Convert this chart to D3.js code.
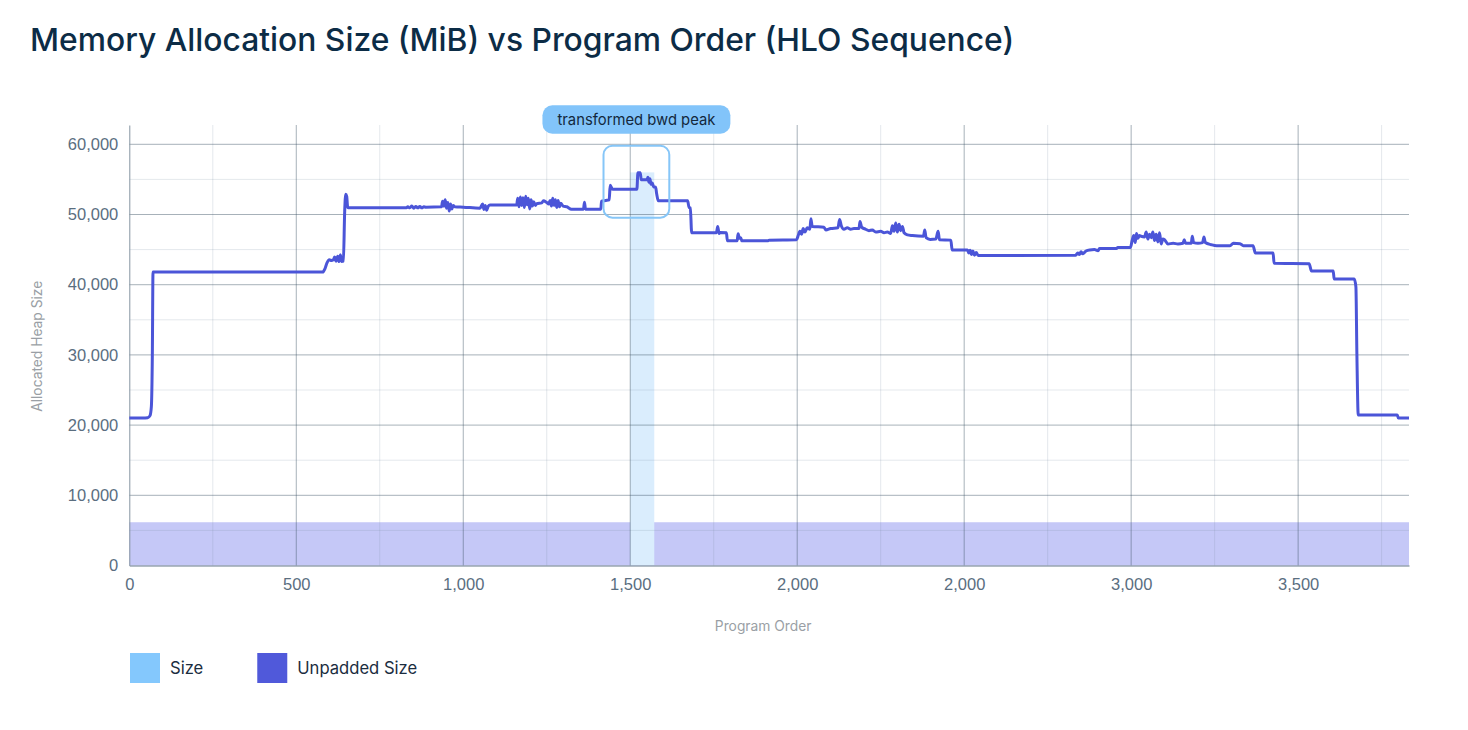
<!DOCTYPE html>
<html lang="en">
<head>
  <meta charset="UTF-8">
  <title>Memory Allocation Size (MiB) vs Program Order (HLO Sequence)</title>
  <script src="https://d3js.org/d3.v7.min.js"></script>
  <style>
    body {
      margin: 0;
      background: #fff;
      font-family: Inter, 'Noto Sans', sans-serif;
    }
    #chart { display: block; }
    .tick-label { fill: #5a6e7f; font-size: 16.5px; }
    .axis-title { fill: #9a9fa5; font-size: 13.8px; }
    .legend-text { fill: #1b2d40; font-size: 16.6px; }
  </style>
</head>
<body>
  <svg id="chart"></svg>

  <script>
    // heap trace: [program order, allocated heap size MiB]
    const heapTrace = [
      [0, 21000], [40, 21000], [55, 21050], [62, 21350], [66, 22600], [69, 30000], [71, 41800],
      [579, 41800], [586, 42300], [592, 43100], [599, 43550], [605, 43450], [611, 43550],
      [615, 43950], [619, 43350], [624, 44050], [628, 43300], [632, 44250], [636, 43300],
      [641, 43350], [645, 50500], [648, 52900], [651, 52600], [654, 51000], [658, 50950],
      [830, 50950], [834, 51100], [840, 50950], [846, 51200], [852, 50900], [858, 51150],
      [864, 50950], [870, 51150], [876, 50950], [882, 51100], [888, 51050], [935, 51100],
      [938, 51900], [942, 51200], [946, 52100], [950, 50900], [954, 51700], [958, 50500],
      [962, 51500], [966, 50800], [970, 51300], [975, 51100], [1000, 51050], [1050, 50900],
      [1058, 51500], [1062, 50700], [1066, 51300], [1070, 50600], [1075, 51200], [1080, 51350],
      [1160, 51350], [1163, 52300], [1167, 51100], [1171, 52500], [1175, 51300], [1179, 52400],
      [1183, 51000], [1187, 52600], [1191, 51400], [1195, 52300], [1199, 50800], [1203, 52100],
      [1207, 51200], [1211, 51800], [1216, 51300], [1220, 51550], [1235, 51650], [1240, 51950],
      [1250, 51700], [1256, 51500], [1260, 52000], [1264, 51200], [1268, 52300], [1272, 51300],
      [1276, 52100], [1280, 51000], [1284, 52000], [1288, 51100], [1292, 51600], [1299, 51200],
      [1310, 51100], [1324, 50750], [1360, 50750], [1363, 51750], [1366, 50750], [1412, 50750],
      [1414, 51900], [1427, 52000], [1437, 52100], [1440, 54150], [1447, 53600], [1520, 53600],
      [1523, 55950], [1530, 55950], [1533, 54950], [1550, 54950], [1553, 55300], [1556, 54600],
      [1559, 55100], [1562, 54300], [1566, 54500], [1570, 53950], [1576, 53900], [1579, 53000],
      [1584, 51950], [1672, 51950], [1676, 51000], [1680, 50950], [1684, 47400], [1758, 47400],
      [1762, 48300], [1766, 47300], [1769, 47450], [1788, 47400], [1791, 46250], [1820, 46250],
      [1823, 47250], [1827, 46600], [1831, 46700], [1834, 46250], [1913, 46250], [1916, 46350],
      [1998, 46400], [2003, 47000], [2008, 47600], [2013, 47200], [2018, 48000], [2023, 47500],
      [2030, 48100], [2038, 47900], [2041, 49400], [2045, 48300], [2080, 48200], [2086, 47800],
      [2100, 48000], [2122, 48100], [2127, 49300], [2132, 48400], [2140, 47900], [2150, 48100],
      [2160, 47900], [2170, 48000], [2185, 48000], [2188, 49000], [2193, 48200], [2205, 47900],
      [2215, 47700], [2225, 47800], [2235, 47500], [2250, 47600], [2260, 47400], [2270, 47500],
      [2280, 47300], [2285, 48400], [2290, 47600], [2295, 48800], [2300, 47500], [2305, 48600],
      [2310, 47700], [2315, 48300], [2320, 47400], [2330, 47100], [2345, 47000], [2378, 46900],
      [2382, 47800], [2386, 46700], [2398, 46450], [2415, 46500], [2422, 47600], [2426, 46400],
      [2460, 46350], [2464, 44950], [2510, 44950], [2514, 44500], [2518, 44900], [2522, 44300],
      [2526, 44800], [2531, 44200], [2536, 44600], [2542, 44150], [2834, 44200], [2840, 44500],
      [2845, 44300], [2850, 44700], [2855, 44400], [2865, 44800], [2876, 44950], [2890, 45000],
      [2901, 44850], [2905, 45150], [2956, 45150], [2960, 45300], [2998, 45300], [3003, 46300],
      [3008, 47000], [3012, 46000], [3016, 47300], [3020, 46600], [3025, 47000], [3030, 46900],
      [3040, 46800], [3045, 47500], [3050, 46500], [3055, 47200], [3060, 46700], [3065, 47500],
      [3070, 46300], [3075, 47200], [3080, 46100], [3085, 47400], [3090, 45800], [3095, 46500],
      [3100, 46400], [3110, 45800], [3126, 45900], [3140, 45800], [3155, 45900], [3159, 46400],
      [3163, 45900], [3180, 45900], [3183, 46900], [3187, 46000], [3200, 45900], [3214, 46000],
      [3218, 46800], [3222, 46000], [3240, 45700], [3256, 45550], [3296, 45550], [3306, 45900],
      [3326, 45850], [3336, 45550], [3365, 45550], [3372, 44500], [3425, 44500], [3428, 43050],
      [3533, 43000], [3540, 41950], [3605, 41950], [3608, 40800], [3668, 40800], [3673, 39700],
      [3676, 30000], [3680, 21450], [3797, 21450], [3800, 21000], [3832, 21000]
    ];

    // "Unpadded Size" band and "Size" bar
    const unpaddedSize = [[0, 6160], [3832, 6160]];
    const sizeBars = [{ start: 1500, end: 1572, value: 56000 }];

    const xDomain = [0, 3832];
    const yDomain = [0, 62750];
    const xTickValues = [0, 500, 1000, 1500, 2000, 2500, 3000, 3500];
    const xTickLabels = ["0", "500", "1,000", "1,500", "2,000", "2,000", "3,000", "3,500"];
    const xMinorTicks = [250, 750, 1250, 1750, 2250, 2750, 3250, 3750];
    const yTickValues = [0, 10000, 20000, 30000, 40000, 50000, 60000];
    const yMinorTicks = [5000, 15000, 25000, 35000, 45000, 55000];

    const peakNote = { label: "transformed bwd peak", x0: 1420, x1: 1617, y0: 49550, y1: 59800 };

    const legendItems = [
      { name: "Size", color: "#84c8fd" },
      { name: "Unpadded Size", color: "#5059da" }
    ];

    const width = 1468, height = 730;
    const margin = { top: 125, right: 59, bottom: 164.5, left: 129.3 };
    const innerW = width - margin.left - margin.right;
    const innerH = height - margin.top - margin.bottom;

    const svg = d3.select("#chart").attr("width", width).attr("height", height);

    svg.append("text")
      .attr("x", 30).attr("y", 51)
      .attr("fill", "#0c2c46")
      .style("font-size", "31.8px")
      .style("font-weight", 500)
      .text("Memory Allocation Size (MiB) vs Program Order (HLO Sequence)");

    const g = svg.append("g").attr("transform", `translate(${margin.left},${margin.top})`);

    const x = d3.scaleLinear().domain(xDomain).range([0, innerW]);
    const y = d3.scaleLinear().domain(yDomain).range([innerH, 0]);

    // unpadded band
    g.append("path")
      .datum(unpaddedSize)
      .attr("fill", "#5059e6")
      .attr("fill-opacity", 0.33)
      .attr("d", d3.area().x(d => x(d[0])).y0(y(0)).y1(d => y(d[1])));

    // size bar
    g.selectAll(".size-bar")
      .data(sizeBars)
      .enter().append("rect")
      .attr("class", "size-bar")
      .attr("x", d => x(d.start))
      .attr("width", d => x(d.end) - x(d.start))
      .attr("y", d => y(d.value))
      .attr("height", d => y(0) - y(d.value))
      .attr("fill", "#daedfd");

    // grid (drawn on top, translucent)
    g.append("g").selectAll("line")
      .data(xMinorTicks).enter().append("line")
      .attr("x1", d => x(d)).attr("x2", d => x(d))
      .attr("y1", 0).attr("y2", innerH)
      .attr("stroke", "rgba(120,140,160,0.2)");
    g.append("g").selectAll("line")
      .data(yMinorTicks).enter().append("line")
      .attr("x1", 0).attr("x2", innerW)
      .attr("y1", d => y(d)).attr("y2", d => y(d))
      .attr("stroke", "rgba(120,140,160,0.2)");
    g.append("g").selectAll("line")
      .data(xTickValues.slice(1)).enter().append("line")
      .attr("x1", d => x(d)).attr("x2", d => x(d))
      .attr("y1", 0).attr("y2", innerH)
      .attr("stroke", "rgba(60,82,100,0.45)");
    g.append("g").selectAll("line")
      .data(yTickValues.slice(1)).enter().append("line")
      .attr("x1", 0).attr("x2", innerW)
      .attr("y1", d => y(d)).attr("y2", d => y(d))
      .attr("stroke", "rgba(60,82,100,0.45)");

    // axes
    const xAxis = g.append("g")
      .attr("transform", `translate(0,${innerH})`)
      .call(d3.axisBottom(x).tickValues(xTickValues)
        .tickFormat((d, i) => xTickLabels[i]).tickSize(0).tickPadding(13));
    xAxis.select(".domain").attr("stroke", "#667a8a").attr("stroke-width", 1.2);
    xAxis.selectAll("text").attr("class", "tick-label").attr("font-family", null).attr("font-size", null);

    const yAxis = g.append("g")
      .call(d3.axisLeft(y).tickValues(yTickValues)
        .tickFormat(d3.format(",")).tickSize(0).tickPadding(11));
    yAxis.select(".domain").attr("stroke", "#8595a2");
    yAxis.selectAll("text").attr("class", "tick-label").attr("font-family", null).attr("font-size", null);

    g.append("text")
      .attr("class", "axis-title")
      .attr("text-anchor", "middle")
      .attr("x", innerW / 2 - 6).attr("y", innerH + 65)
      .text("Program Order");

    g.append("text")
      .attr("class", "axis-title")
      .attr("text-anchor", "middle")
      .attr("transform", `translate(${-87},${innerH / 2 + 1}) rotate(-90)`)
      .text("Allocated Heap Size");

    // heap line
    g.append("path")
      .datum(heapTrace)
      .attr("fill", "none")
      .attr("stroke", "#4b55d8")
      .attr("stroke-width", 3)
      .attr("stroke-linejoin", "round")
      .attr("d", d3.line().x(d => x(d[0])).y(d => y(d[1])).curve(d3.curveMonotoneX));

    // peak annotation
    g.append("rect")
      .attr("x", x(peakNote.x0)).attr("y", y(peakNote.y1))
      .attr("width", x(peakNote.x1) - x(peakNote.x0))
      .attr("height", y(peakNote.y0) - y(peakNote.y1))
      .attr("rx", 9)
      .attr("fill", "none")
      .attr("stroke", "#86c6f8")
      .attr("stroke-width", 2);

    const cx = (x(peakNote.x0) + x(peakNote.x1)) / 2;
    const pill = g.append("g");
    const pillRect = pill.append("rect").attr("fill", "#82c4fa").attr("rx", 10);
    const pillText = pill.append("text")
      .attr("x", cx).attr("y", y(peakNote.y1) - 26)
      .attr("text-anchor", "middle")
      .attr("dominant-baseline", "central")
      .attr("fill", "#13283c")
      .style("font-size", "14.8px")
      .text(peakNote.label);
    const tw = pillText.node().getComputedTextLength();
    pillRect
      .attr("x", cx - tw / 2 - 15).attr("width", tw + 30)
      .attr("y", y(peakNote.y1) - 40.5).attr("height", 28.5);

    // legend
    const legend = svg.append("g").attr("transform", "translate(130,653)");
    let lx = 0;
    legendItems.forEach(item => {
      const row = legend.append("g").attr("transform", `translate(${lx},0)`);
      row.append("rect").attr("width", 30).attr("height", 30).attr("fill", item.color);
      const t = row.append("text")
        .attr("class", "legend-text")
        .attr("x", 40).attr("y", 15)
        .attr("dominant-baseline", "central")
        .text(item.name);
      lx += 40 + t.node().getComputedTextLength() + 54;
    });
  </script>
</body>
</html>
